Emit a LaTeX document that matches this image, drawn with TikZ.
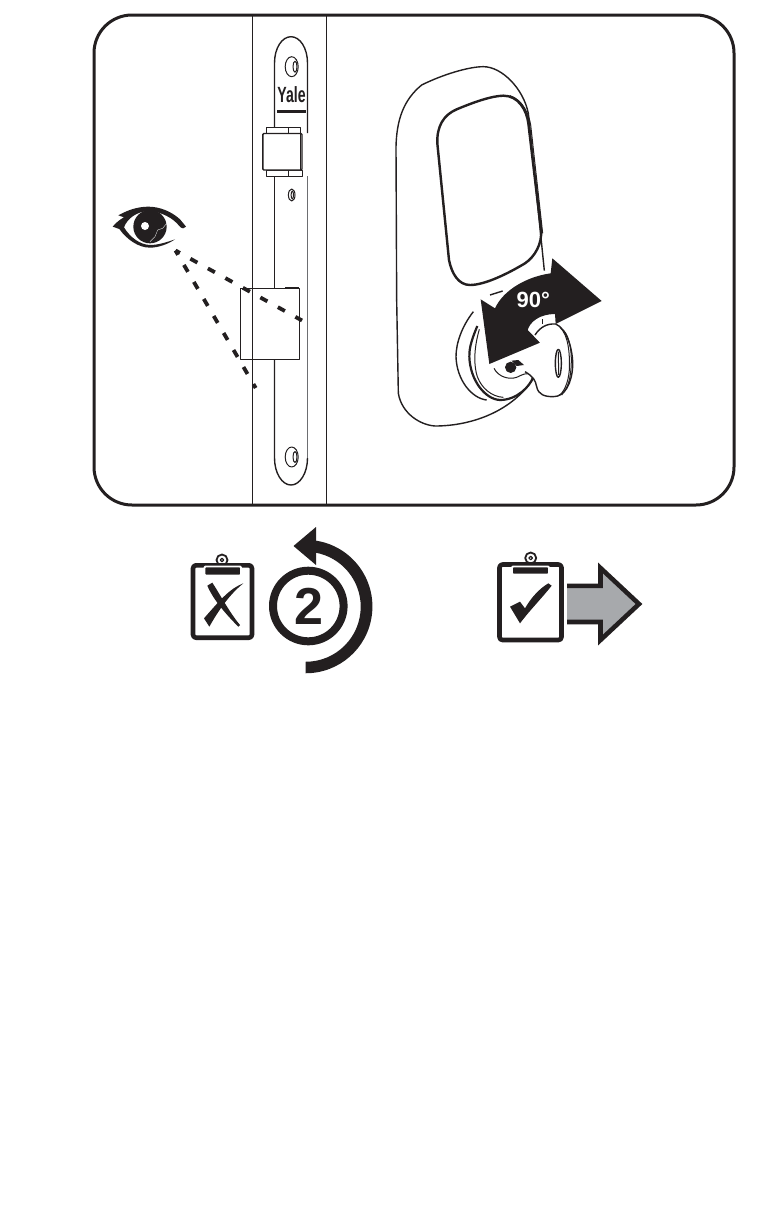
\documentclass[tikz,border=0pt]{standalone}
\usepackage{fontspec}
\setmainfont{Liberation Sans}
\definecolor{ink}{HTML}{231F20}
\definecolor{arrowgrey}{HTML}{A7A9AC}
\definecolor{plategrey}{HTML}{6D6E71}
\tikzset{
  x=1pt,y=-1pt,
  frameline/.style={draw=ink,line width=3pt,rounded corners=38pt},
  thin1/.style={draw=ink,line width=1pt},
  med/.style={draw=ink,line width=1.4pt},
  thick2/.style={draw=ink,line width=2.2pt},
  sight/.style={draw=ink,line width=3.8pt},
  board/.style={draw=ink,line width=4.6pt,fill=white,rounded corners=3pt},
  clipbar/.style={draw=white,line width=1.8pt,fill=ink,rounded corners=1pt},
  zoomA/.style={shift={(90,180)},x=1pt/3,y=-1pt/3},
  zoomK/.style={shift={(390,240)},x=1pt/3,y=-1pt/3},
  zoomB/.style={shift={(385,60)},x=1pt/3,y=-1pt/3},
  zoomX/.style={shift={(180,520)},x=1pt/3,y=-1pt/3},
  zoomC/.style={shift={(490,545)},x=1pt/3,y=-1pt/3},
}
\begin{document}
\begin{tikzpicture}[line join=round,line cap=butt]
\useasboundingbox (0,0) rectangle (776,1205);
\fill[white] (0,0) rectangle (776,1205);
% frame
\draw[frameline] (94,15) rectangle (734,505);
% door edges
\draw[thin1] (252.5,15) -- (252.5,505);
\draw[thin1] (326.5,15) -- (326.5,505);
% strike plate
\draw[med] (274.5,127) -- (274.5,63) .. controls (274.5,48) and (282,36.7) .. (291,36.7) .. controls (300,36.7) and (307.5,48) .. (307.5,63) -- (307.5,133);
\draw[med] (274.5,176) -- (274.5,288);
\draw[med] (274.5,359) -- (274.5,458) .. controls (274.5,473) and (282,485) .. (291,485) .. controls (300,485) and (307.5,473) .. (307.5,458);
\draw[draw=plategrey,line width=1.5pt] (307.5,458) -- (307.5,176);
% screw holes
\foreach \yy in {66.7,457}{
  \draw[thin1] (291.7,\yy) ellipse (6.5 and 10);
  \draw[thin1] (295,\yy) ellipse (2 and 5.5);
}
\draw[thin1] (291.7,195) ellipse (3.3 and 6);
\draw[thin1] (292.3,195) ellipse (1.2 and 4);
% Yale
\node[inner sep=0pt,font=\bfseries\fontsize{22}{22}\selectfont,text=ink] (yale) at (291.5,95) {\scalebox{.64}[1]{Yale}};
\fill[ink] (277,109.5) rectangle (306,112.5);
% upper latch
\draw[thin1,fill=white] (266,127) rectangle (300.5,133);
\draw[thin1,fill=white] (266,170) rectangle (302,176);
\draw[med,fill=white,rounded corners=1pt] (262.8,133.5) -- (302,133.5) -- (302,170) -- (262.8,170) -- cycle;
\draw[thin1] (300,133.5) -- (300,170);
\draw[thin1] (288,127) -- (288,133) (288,170) -- (288,176);
% lower latch box
\draw[thin1,fill=white] (240.7,288) rectangle (299,359);
\draw[line width=1.3pt,ink] (252.5,288) -- (252.5,359);
\draw[line width=1.6pt,ink] (285,288) -- (299,288) (285,359.5) -- (299,359.5);
% sight lines
\coordinate (eyeA) at (175.5,250.5);
\coordinate (lineA) at (302,320.5);
\coordinate (lineB) at (255.7,388);
\draw[sight,dash pattern=on 8pt off 12pt,dash phase=3pt] (eyeA) -- (lineA);
\draw[sight,dash pattern=on 8pt off 11.7pt,dash phase=3pt] (eyeA) -- (lineB);
% eye
\begin{scope}[zoomA]
\fill[ink] (68,140) .. controls (78,128) and (90,118) .. (102,112) -- (85,106) .. controls (110,92) and (140,80) .. (175,80)
  .. controls (210,80) and (245,95) .. (270,118) .. controls (278,128) and (284,134) .. (288,140) .. controls (285,147) and (275,147) .. (268,138)
  .. controls (250,115) and (215,95) .. (175,93) .. controls (140,95) and (112,115) .. (102,142)
  .. controls (120,172) and (150,194) .. (180,195) .. controls (205,195) and (232,186) .. (255,178) .. controls (235,192) and (205,203) .. (180,203)
  .. controls (145,203) and (110,178) .. (88,147) -- cycle;
\fill[ink] (180,140) circle[radius=50];
\fill[white] (165,138) circle[radius=12];
\draw[white,line width=.3pt] (180,185) -- (195,170) -- (203,150) -- (218,145) -- (230,130);
\end{scope}
% lock body and window
\begin{scope}[zoomB]
\draw[med] (35,720) -- (33,260) .. controls (35,180) and (55,120) .. (110,75) .. controls (170,45) and (250,20) .. (295,20)
  .. controls (350,20) and (415,85) .. (430,160) -- (478,632);
\draw[line width=2.4pt,ink] (157,250) .. controls (155,200) and (175,165) .. (215,148) .. controls (270,125) and (320,108) .. (355,107)
  .. controls (400,107) and (425,150) .. (430,190) -- (468,510) .. controls (472,550) and (450,590) .. (420,610)
  .. controls (370,640) and (300,675) .. (255,675) .. controls (220,675) and (200,640) .. (192,600) -- cycle;
\draw[thin1] (375,107) .. controls (415,120) and (432,165) .. (437,195) -- (473,520);
\draw[thin1] (432,190) -- (470,510);
\end{scope}
% lock cylinder, black arrow and key
\begin{scope}[zoomK]
\draw[med] (20,180) -- (25,460) .. controls (35,520) and (90,555) .. (135,558) .. controls (250,558) and (370,510) .. (430,415);
\draw[med] (250,215) .. controls (215,260) and (198,310) .. (198,350) .. controls (200,420) and (245,475) .. (290,480);
\draw[thick2] (262,258) .. controls (240,310) and (238,330) .. (238,350) .. controls (240,420) and (285,478) .. (330,480) .. controls (380,480) and (420,440) .. (430,410);
\draw[thin1] (268,268) .. controls (250,330) and (252,380) .. (262,410) .. controls (275,445) and (305,470) .. (340,472);
\draw[thin1] (312,385) .. controls (325,410) and (355,420) .. (380,412) .. controls (395,405) and (410,395) .. (430,405);
\fill[ink] (362,382) circle[radius=17];
\fill[ink] (365,362) -- (385,360) -- (402,375) -- (380,378) -- cycle;
\draw[med] (300,165) -- (338,153);
\fill[ink] (635,183) -- (487,55) -- (482,100) .. controls (410,110) and (340,150) .. (315,205)
  -- (272,178) -- (298,372) -- (450,308) -- (413,270) .. controls (420,245) and (450,222) .. (495,222)
  -- (497,252) -- cycle;
\node[inner sep=0pt,font=\bfseries\fontsize{22}{22}\selectfont,text=white] (deg) at (430,180) {90°};
% key
\fill[white] (450,308) -- (435,285) .. controls (450,262) and (470,250) .. (497,252) .. controls (530,265) and (550,330) .. (548,380)
  .. controls (545,430) and (525,470) .. (490,470) .. controls (465,470) and (445,465) .. (440,440) .. controls (436,420) and (430,410) .. (405,395) -- cycle;
\draw[med] (435,285) .. controls (450,262) and (470,250) .. (497,252) .. controls (530,265) and (550,330) .. (548,380)
  .. controls (545,430) and (525,470) .. (490,470) .. controls (465,470) and (445,465) .. (440,440) .. controls (436,420) and (430,410) .. (405,395);
\draw[thin1] (510,262) .. controls (535,285) and (540,340) .. (538,390) .. controls (535,430) and (520,460) .. (505,468);
\draw[thin1] (520,270) .. controls (542,295) and (546,340) .. (543,385) .. controls (540,430) and (528,450) .. (515,465);
\draw[med] (505,370) ellipse[x radius=9,y radius=42];
\draw[thin1] (505,335) -- (506,405);
\draw[med] (458,238) -- (458,252);
\end{scope}
% left clipboard with cross
\draw[draw=ink,line width=1.8pt,fill=white] (222,560) circle (5.5);
\draw[draw=ink,line width=1.2pt] (222,560) circle (1.8);
\draw[board] (193,565.3) rectangle (252,637.7);
\draw[clipbar] (204.5,566.5) rectangle (241,575.5);
\begin{scope}[zoomX]
\fill[ink] (82,197) -- (97,188) .. controls (115,215) and (150,280) .. (180,315) -- (175,320) .. controls (140,285) and (100,240) .. (82,197) -- cycle;
\fill[ink] (190,190) .. controls (150,205) and (120,240) .. (72,295) -- (88,320) .. controls (105,290) and (140,230) .. (190,190) -- cycle;
\end{scope}
% ring with number
\draw[ink,line width=8pt] (308.3,606) circle (35.3);
\node[inner sep=0pt,font=\bfseries\fontsize{52}{52}\selectfont,text=ink] (two) at (308.5,606) {2};
% circular arrow
\fill[ink] (293.5,546) -- (316,527) -- (316,565) -- cycle;
\fill[ink] (315,540.5) arc[start angle=-82,end angle=90,radius=66.7] -- ++(0,-11.5) arc[start angle=90,end angle=-80,radius=55] -- cycle;
% right clipboard with check
\draw[draw=ink,line width=1.8pt,fill=white] (530.7,558) circle (5.5);
\draw[draw=ink,line width=1.2pt] (530.7,558) circle (1.8);
\draw[board] (499.5,564.5) rectangle (561.5,640);
\draw[clipbar] (512,566.5) rectangle (549,574.5);
\begin{scope}[zoomC]
\fill[ink] (60,185) -- (90,170) -- (105,190) .. controls (125,155) and (150,130) .. (175,115) -- (185,122) .. controls (155,160) and (120,195) .. (90,235) -- cycle;
\end{scope}
% grey arrow
\fill[arrowgrey] (567,585.8) -- (600.5,585.8) -- (600.5,568) -- (639,604) -- (600.5,640) -- (600.5,622) -- (567,622) -- cycle;
\draw[ink,line width=4.6pt,line join=miter] (567,585.8) -- (600.5,585.8) -- (600.5,568) -- (639,604) -- (600.5,640) -- (600.5,622) -- (567,622);
\end{tikzpicture}
\end{document}
